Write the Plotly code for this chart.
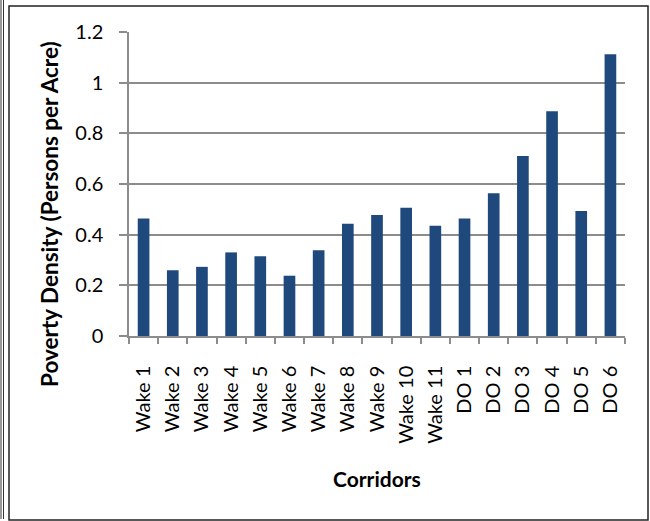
import plotly.graph_objects as go

# Corridor names and poverty density (persons per acre)
corridors = ["Wake 1", "Wake 2", "Wake 3", "Wake 4", "Wake 5", "Wake 6", "Wake 7",
             "Wake 8", "Wake 9", "Wake 10", "Wake 11",
             "DO 1", "DO 2", "DO 3", "DO 4", "DO 5", "DO 6"]
density = [0.464, 0.260, 0.273, 0.330, 0.315, 0.238, 0.338,
           0.443, 0.478, 0.506, 0.435,
           0.464, 0.563, 0.711, 0.887, 0.493, 1.112]
y_ticks = [0, 0.2, 0.4, 0.6, 0.8, 1.0, 1.2]

W, H = 650, 521
ML, MR, MT, MB = 129, 25, 32, 185
PW, PH = W - ML - MR, H - MT - MB

def px(x):
    return (x - ML) / PW

def py(y):
    return (H - MB - y) / PH

FONT = "Lato"
BAR = "#1F497D"
GRID = "#8C8C8C"

fig = go.Figure(go.Bar(
    x=corridors, y=density, marker=dict(color=BAR, line=dict(width=0)),
))

fig.update_layout(
    width=W, height=H,
    margin=dict(l=ML, r=MR, t=MT, b=MB, pad=0),
    paper_bgcolor="white", plot_bgcolor="white",
    bargap=0.6, showlegend=False,
    font=dict(family=FONT, size=20, color="black"),
)

fig.update_yaxes(
    range=[0, 1.2], tickvals=y_ticks, ticktext=[f"{v:g}" for v in y_ticks],
    showgrid=True, gridcolor=GRID, gridwidth=1.5,
    showline=True, linecolor=GRID, linewidth=1.5,
    ticks="outside", ticklen=8, tickcolor=GRID, tickwidth=1.5,
    ticklabelstandoff=12, zeroline=False,
    tickfont=dict(family=FONT, size=20, color="black"),
)
fig.update_xaxes(
    showline=True, linecolor=GRID, linewidth=1.5,
    ticks="outside", ticklen=6, tickcolor=GRID, tickwidth=1.5,
    tickson="boundaries", tickangle=-90, ticklabelstandoff=20,
    tickfont=dict(family=FONT, size=20, color="black"),
)

# Axis titles
fig.add_annotation(text="<b>Poverty Density (Persons per Acre)</b>",
                   xref="paper", yref="paper", x=px(50), y=py(214),
                   xanchor="center", yanchor="middle",
                   textangle=-90, showarrow=False,
                   font=dict(family=FONT, size=22.5, color="black"))
fig.add_annotation(text="<b>Corridors</b>",
                   xref="paper", yref="paper", x=px(377), y=py(478),
                   xanchor="center", yanchor="middle",
                   showarrow=False,
                   font=dict(family=FONT, size=21, color="black"))

# Chart frame and outer double rule
fig.add_shape(type="rect", xref="paper", yref="paper",
              x0=px(9), x1=px(648), y0=py(520), y1=py(6),
              line=dict(color="#222222", width=1.5), layer="below")
for xl in (1, 3.5):
    fig.add_shape(type="line", xref="paper", yref="paper",
                  x0=px(xl), x1=px(xl), y0=py(519), y1=py(0),
                  line=dict(color="#333333", width=1))

fig.write_html("out.html")
